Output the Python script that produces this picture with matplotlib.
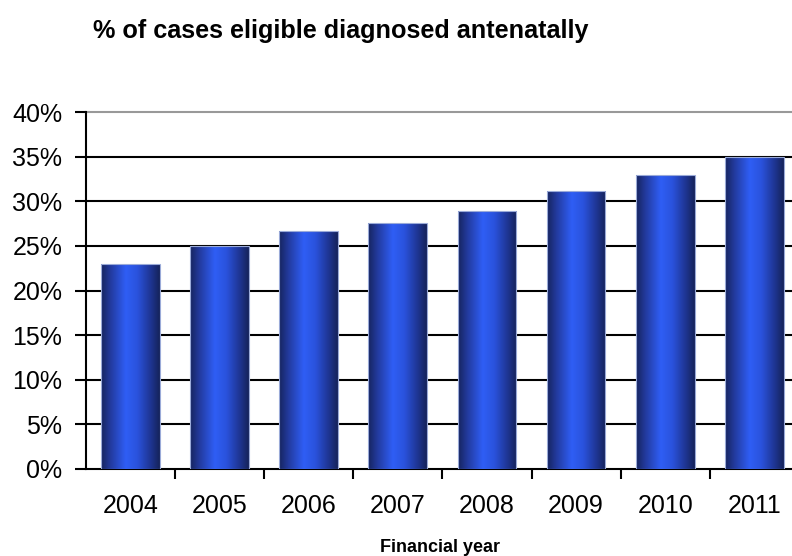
import numpy as np
import matplotlib
matplotlib.use("Agg")
import matplotlib.pyplot as plt
from matplotlib.colors import LinearSegmentedColormap
from matplotlib.patches import Rectangle

years = ["2004", "2005", "2006", "2007", "2008", "2009", "2010", "2011"]
pct = [23.0, 25.0, 26.7, 27.6, 28.9, 31.1, 32.9, 35.0]
yticks = [0, 5, 10, 15, 20, 25, 30, 35, 40]

plt.rcParams['font.family'] = ['Liberation Sans', 'DejaVu Sans']

fig = plt.figure(figsize=(7.92, 5.56), dpi=100)
ax = fig.add_axes([0.1086, 0.1565, 0.90, 0.642])

# bar shading: dark edges, bright band left of centre
shade = LinearSegmentedColormap.from_list(
    "bar", [(0.0, "#16245e"), (0.15, "#22399a"), (0.42, "#2f5ef5"),
            (0.62, "#2a52dc"), (0.85, "#1e3490"), (1.0, "#15235a")])
grad = np.linspace(0, 1, 256).reshape(1, -1)

x = np.arange(len(years))
width = 0.66
for xi, v in zip(x, pct):
    left = xi - width / 2
    im = ax.imshow(grad, cmap=shade, aspect="auto", interpolation="bicubic",
                   extent=(left, left + width, 0, v), zorder=3)
    rect = Rectangle((left, 0), width, v, facecolor="none",
                     edgecolor="#9aaad8", linewidth=0.8, zorder=4)
    ax.add_patch(rect)
    im.set_clip_path(rect)

ax.set_xlim(-0.5, len(years) - 0.5)
ax.set_ylim(0, 40)
ax.set_yticks(yticks)
ax.set_yticklabels([f"{t}%" for t in yticks], fontsize=18)
ax.set_xticks(x)
ax.set_xticklabels(years, fontsize=18)
ax.set_xticks(np.arange(len(years)) + 0.5, minor=True)
ax.tick_params(axis="x", which="major", length=0, pad=18)
ax.tick_params(axis="x", which="minor", length=7, width=1.5, color="black")
ax.tick_params(axis="y", length=8, width=1.5, pad=9)

for t in yticks[1:-1]:
    ax.axhline(t, color="black", linewidth=1.5, zorder=1)
ax.axhline(40, color="#999999", linewidth=1.5, zorder=1, clip_on=False)

ax.spines["top"].set_visible(False)
ax.spines["right"].set_visible(False)
ax.spines["left"].set_linewidth(1.5)
ax.spines["bottom"].set_linewidth(1.5)

fig.text(0.43, 0.945, "% of cases eligible diagnosed antenatally",
         fontsize=18.2, fontweight="bold", ha="center", va="center")
fig.text(0.556, 0.016, "Financial year", fontsize=13, fontweight="bold",
         ha="center", va="center")

fig.savefig("out.png", dpi=100)
